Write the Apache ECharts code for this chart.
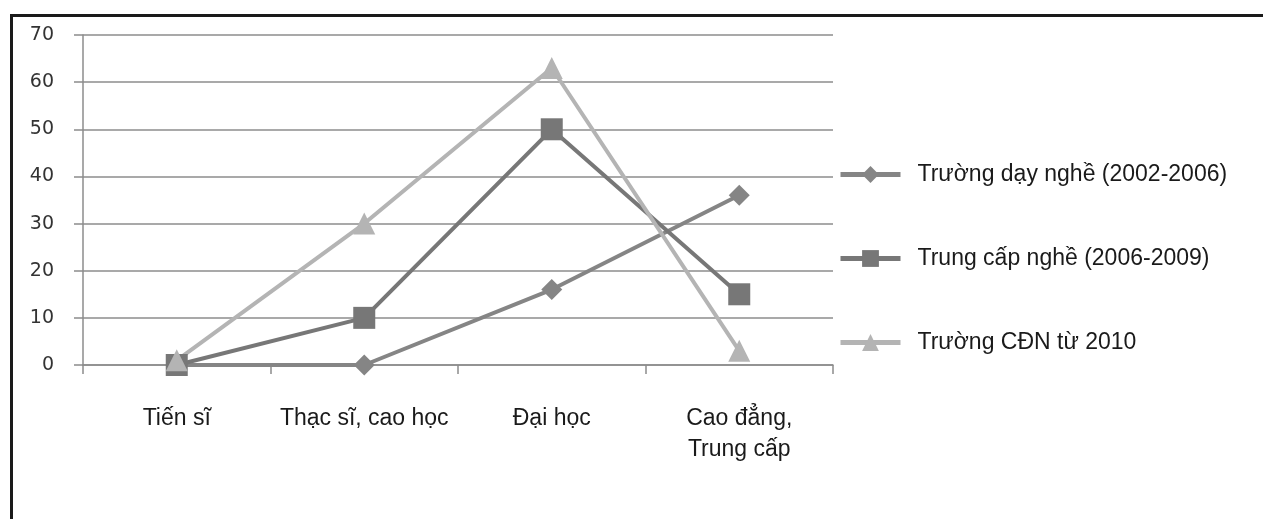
<!DOCTYPE html>
<html>
<head>
<meta charset="utf-8">
<script src="https://cdn.jsdelivr.net/npm/echarts@6/dist/echarts.min.js"></script>
<style>
  html, body { margin: 0; padding: 0; background: #ffffff; }
  #chart { width: 1263px; height: 519px; }
</style>
</head>
<body>
<div id="chart"></div>
<script>
// Education levels of teaching staff, by school period (%)
const categories = ['Tiến sĩ', 'Thạc sĩ, cao học', 'Đại học', 'Cao đẳng,\nTrung cấp'];
const seriesNames = ['Trường dạy nghề (2002-2006)', 'Trung cấp nghề (2006-2009)', 'Trường CĐN từ 2010'];
const dayNghe = [0, 0, 16, 36];
const trungCapNghe = [0, 10, 50, 15];
const cdn2010 = [1, 30, 63, 3];
const yTicks = { min: 0, max: 70, interval: 10 };

const textFont = '"Liberation Sans", Arial, sans-serif';

const chart = echarts.init(document.getElementById('chart'), null, { renderer: 'canvas' });

function lineSeries(name, data, color, symbol, size) {
  return {
    name: name,
    type: 'line',
    data: data,
    symbol: symbol,
    symbolSize: size,
    showAllSymbol: true,
    lineStyle: { color: color, width: 4 },
    itemStyle: { color: color, borderWidth: 0 },
    emphasis: { disabled: true },
    animation: false
  };
}

chart.setOption({
  backgroundColor: '#ffffff',
  animation: false,
  graphic: [{
    type: 'rect',
    left: 9,
    top: 13,
    shape: { width: 1400, height: 700 },
    style: { fill: 'none', stroke: '#1a1a1a', lineWidth: 3 },
    silent: true
  }],
  grid: { left: 83, right: 430, top: 35, bottom: 154, containLabel: false },
  legend: {
    orient: 'vertical',
    left: 833,
    top: 158,
    itemWidth: 60,
    itemHeight: 21,
    itemGap: 61,
    data: seriesNames,
    lineStyle: { width: 5 },
    textStyle: { fontFamily: textFont, fontSize: 23, color: '#1a1a1a', padding: [0, 0, 0, 12] }
  },
  xAxis: {
    type: 'category',
    data: categories,
    boundaryGap: true,
    axisLine: { lineStyle: { color: '#8c8c8c', width: 1.5 } },
    axisTick: { show: true, length: 9, alignWithLabel: false, lineStyle: { color: '#8c8c8c', width: 1.5 } },
    axisLabel: {
      interval: 0,
      margin: 38,
      fontFamily: textFont,
      fontSize: 23,
      lineHeight: 31,
      color: '#1a1a1a'
    },
    splitLine: { show: false }
  },
  yAxis: {
    type: 'value',
    min: yTicks.min,
    max: yTicks.max,
    interval: yTicks.interval,
    axisLine: { show: true, lineStyle: { color: '#8c8c8c', width: 1.5 } },
    axisTick: { show: true, length: 9, lineStyle: { color: '#8c8c8c', width: 1.5 } },
    axisLabel: {
      margin: 29,
      fontFamily: '"DejaVu Sans", Verdana, sans-serif',
      fontSize: 19,
      color: '#333333'
    },
    splitLine: { show: true, lineStyle: { color: '#8c8c8c', width: 1.5 } }
  },
  series: [
    lineSeries(seriesNames[0], dayNghe, '#858585', 'diamond', 21),
    lineSeries(seriesNames[1], trungCapNghe, '#777777', 'rect', 22),
    lineSeries(seriesNames[2], cdn2010, '#b4b4b4', 'triangle', 22)
  ]
});
</script>
</body>
</html>
